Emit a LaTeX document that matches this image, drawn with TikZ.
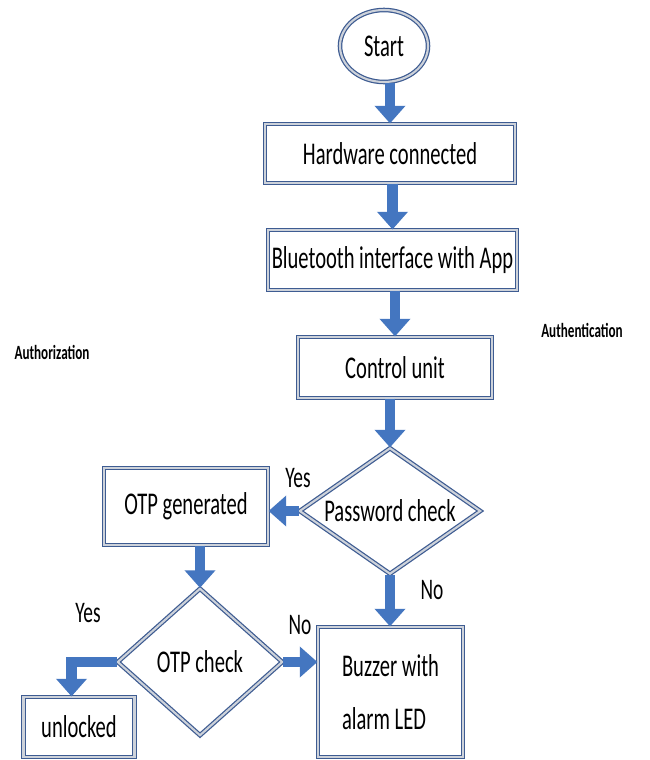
\documentclass[tikz,border=0pt]{standalone}
\usepackage{fontspec}
\setmainfont{Carlito}[FakeStretch=0.65]
\usetikzlibrary{shapes.geometric,arrows.meta}
\definecolor{boxedge}{RGB}{62,92,146}
\definecolor{boxgrey}{RGB}{205,210,218}
\definecolor{arrowblue}{RGB}{68,118,192}
\tikzset{
  procbox/.style={rectangle,draw=boxedge,double=boxgrey,double distance=1.4pt,line width=0.7pt,fill=white,inner sep=0pt,font=\fontsize{18pt}{30pt}\selectfont},
  checkbox/.style={diamond,draw=boxedge,double=boxgrey,double distance=1.2pt,line width=0.7pt,fill=white,inner sep=0pt,font=\fontsize{18pt}{30pt}\selectfont},
  flow/.style={draw=arrowblue,line width=6pt,-{Triangle[length=10pt,width=17pt]}},
  lbl/.style={font=\fontsize{17pt}{20pt}\selectfont},
  side/.style={font=\bfseries\fontsize{11.5pt}{14pt}\selectfont}
}
\begin{document}
\begin{tikzpicture}
\useasboundingbox [fill=white] (0, 0) rectangle (13, 15.2);

\node (start) at (7.68, 14.28) [ellipse,draw=boxedge,double=boxgrey,double distance=1.2pt,line width=0.7pt,fill=white,minimum width=1.76cm,minimum height=1.44cm,inner sep=0pt,font=\fontsize{18pt}{30pt}\selectfont] {Start};
\node (hw) at (7.8, 12.13) [procbox,minimum width=5cm,minimum height=1.18cm] {Hardware connected};
\node (bt) at (7.85, 10.0) [procbox,minimum width=4.98cm,minimum height=1.2cm] {Bluetooth interface with App};
\node (ctrl) at (7.9, 7.85) [procbox,minimum width=3.88cm,minimum height=1.22cm] {Control unit};
\node (pwd) at (7.8, 4.98) [checkbox,aspect=1.44,minimum width=3.62cm,minimum height=2.52cm] {Password check};
\node (otp) at (3.72, 5.07) [procbox,minimum width=3.28cm,minimum height=1.54cm] {OTP generated};
\node (otpchk) at (4.0, 1.96) [checkbox,aspect=1.12,minimum width=3.3cm,minimum height=2.94cm] {OTP check};
\node (buzz) at (7.81, 1.36) [procbox,minimum width=2.9cm,minimum height=2.6cm,align=left] {Buzzer with\\alarm LED};
\node (unl) at (1.58, 0.66) [procbox,minimum width=2.22cm,minimum height=1.2cm] {unlocked};

\draw [flow] (start.south -| hw.north) -- (hw.north);
\draw [flow] (hw.south -| bt.north) -- (bt.north);
\draw [flow] (bt.south -| ctrl.north) -- (ctrl.north);
\draw [flow] (ctrl.south -| pwd.north) -- (pwd.north);
\draw [flow] (pwd.west) -- (pwd.west -| otp.east);
\draw [flow] (otp.south -| otpchk.north) -- (otpchk.north);
\draw [flow] (pwd.south) -- (pwd.south |- buzz.north);
\draw [flow] (otpchk.east) -- (otpchk.east -| buzz.west);
\draw [flow] (otpchk.west) -| ([xshift=-0.15cm]unl.north);

\node (yes1) at (5.96, 5.64) [lbl] {Yes};
\node (no1) at (8.64, 3.4) [lbl] {No};
\node (no2) at (6.0, 2.7) [lbl] {No};
\node (yes2) at (1.76, 2.94) [lbl] {Yes};
\node (authn) at (11.64, 8.6) [side] {Authentication};
\node (authz) at (1.04, 8.16) [side] {Authorization};
\end{tikzpicture}
\end{document}
